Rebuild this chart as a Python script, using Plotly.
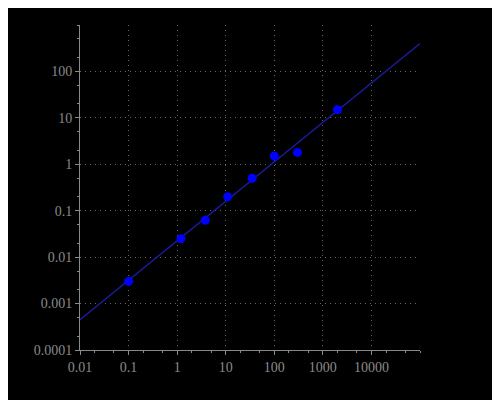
import plotly.graph_objects as go

x_pts = [0.1, 1.2, 3.8, 11, 35, 100, 300, 2000]
y_pts = [0.003, 0.025, 0.062, 0.2, 0.5, 1.5, 1.8, 15]
x_fit = [0.01, 100000]
y_fit = [0.00045, 400]
x_ticks = [0.01, 0.1, 1, 10, 100, 1000, 10000]
x_labels = ['0.01', '0.1', '1', '10', '100', '1000', '10000']
y_ticks = [0.0001, 0.001, 0.01, 0.1, 1, 10, 100]
y_labels = ['0.0001', '0.001', '0.01', '0.1', '1', '10', '100']

grey = '#8a8a8a'
fig = go.Figure()
fig.add_trace(go.Scatter(x=x_fit, y=y_fit, mode='lines',
                         line=dict(color='#1a1a9a', width=1.5), showlegend=False))
fig.add_trace(go.Scatter(x=x_pts, y=y_pts, mode='markers',
                         marker=dict(color='#0000ff', size=9), showlegend=False))

axis = dict(type='log', showline=True, linecolor=grey, linewidth=1,
            gridcolor='#666666', griddash='1px,4px', gridwidth=1,
            ticks='outside', tickcolor=grey, ticklen=4,
            minor=dict(ticks='outside', ticklen=2, tickcolor=grey, showgrid=False),
            tickfont=dict(family='Liberation Serif', size=14, color=grey),
            zeroline=False, mirror=False)
fig.update_xaxes(axis, range=[-2, 5], tickvals=x_ticks, ticktext=x_labels)
fig.update_yaxes(axis, range=[-4, 3], tickvals=y_ticks, ticktext=y_labels)
fig.update_layout(width=500, height=400, paper_bgcolor='black', plot_bgcolor='black',
                  margin=dict(l=72, r=88, t=17, b=58))
fig.write_html('out.html')
